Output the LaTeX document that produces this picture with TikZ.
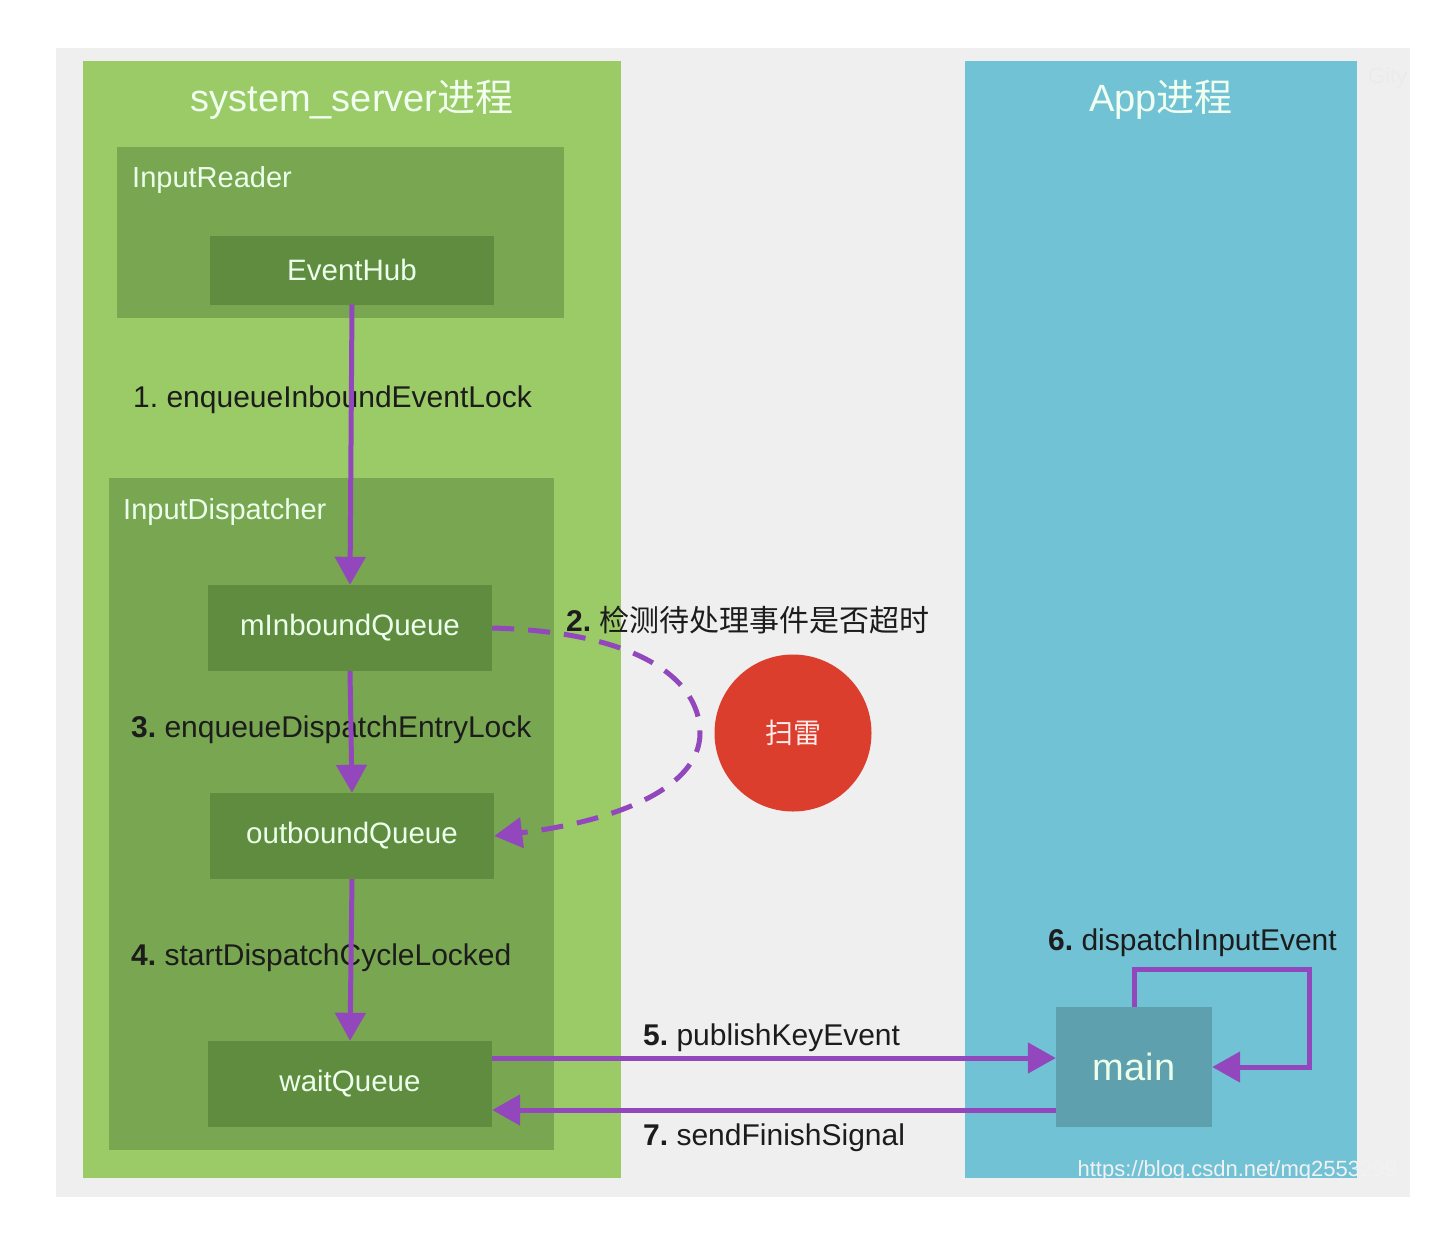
\documentclass[tikz,border=0pt]{standalone}
\usepackage{fontspec}
\setmainfont{Liberation Sans}
\newfontfamily\cjk{Noto Sans CJK SC}
\usetikzlibrary{arrows.meta,positioning,calc}
\definecolor{bggrey}{RGB}{239,239,239}
\definecolor{srvgreen}{RGB}{154,203,103}
\definecolor{midgreen}{RGB}{121,166,81}
\definecolor{darkgreen}{RGB}{96,140,64}
\definecolor{appblue}{RGB}{114,194,214}
\definecolor{mainblue}{RGB}{94,160,174}
\definecolor{minered}{RGB}{220,62,45}
\definecolor{flowpurple}{RGB}{146,72,188}
\definecolor{txtdark}{RGB}{28,28,28}
\tikzstyle{title}=[text=white!94!green,inner sep=0pt,font=\fontsize{38}{42}\selectfont]
\tikzstyle{sublbl}=[anchor=west,text=white!92!green,inner sep=0pt,font=\fontsize{29}{33}\selectfont]
\tikzstyle{box}=[fill=darkgreen,text=white!92!green,minimum width=284pt,minimum height=86pt,inner sep=0pt,font=\fontsize{29.5}{33}\selectfont]
\tikzstyle{flow}=[-{Triangle[length=28pt,width=30pt]},line width=5pt,draw=flowpurple]
\tikzstyle{dashflow}=[flow,dash pattern=on 22pt off 14pt]
\tikzstyle{lbl}=[anchor=west,inner sep=0pt,text=txtdark,font=\fontsize{30}{34}\selectfont]

\begin{document}
\begin{tikzpicture}[x=1pt,y=-1pt]
	\useasboundingbox (0,0) rectangle (1442,1240);

	%backgrounds
	\fill[bggrey] (56,48) rectangle (1410,1197);
	\fill[srvgreen] (83,61) rectangle (621,1178);
	\fill[appblue] (965,61) rectangle (1357,1178);
	\fill[midgreen] (117,147) rectangle (564,318);
	\fill[midgreen] (109,478) rectangle (554,1150);

	\node[title] (srvtitle) at (352,100) {system\_server{\cjk 进程}};
	\node[title] (apptitle) at (1161,100) {App{\cjk 进程}};
	\node[sublbl] (readerlbl) at (132,180) {InputReader};
	\node[sublbl] (dispatchlbl) at (123,512) {InputDispatcher};

	%queues
	\node[box,minimum height=69pt] (eventhub) at (352,270) {EventHub};
	\node[box] (minbound) at (350,628) {mInboundQueue};
	\node[box] (outbound) at (352,836) {outboundQueue};
	\node[box] (waitq) at (350,1084) {waitQueue};
	\node[box,fill=mainblue,minimum width=156pt,minimum height=120pt,
		font=\fontsize{38}{42}\selectfont] (main) at (1134,1067) {main};

	\node[circle,fill=minered,minimum size=157pt,text=white!92!red,
		font=\fontsize{28}{32}\selectfont\cjk] (mine) at (793,733) {扫雷};

	%labels
	\node[lbl] (lbl1) at (133,400) {1.\ enqueueInboundEventLock};
	\node[lbl] (lbl2) at (566,620) {\textbf{2.}\ {\fontsize{30}{34}\selectfont\cjk 检测待处理事件是否超时}};
	\node[lbl] (lbl3) at (131,730) {\textbf{3.}\ enqueueDispatchEntryLock};
	\node[lbl] (lbl4) at (131,958) {\textbf{4.}\ startDispatchCycleLocked};
	\node[lbl] (lbl5) at (643,1038) {\textbf{5.}\ publishKeyEvent};
	\node[lbl] (lbl6) at (1048,943) {\textbf{6.}\ dispatchInputEvent};
	\node[lbl] (lbl7) at (643,1138) {\textbf{7.}\ sendFinishSignal};

	%arrows
	\draw[flow] (eventhub.south) -- (minbound.north);
	\draw[flow] (minbound.south) -- (outbound.north);
	\draw[flow] (outbound.south) -- (waitq.north);
	\coordinate (p5s) at ([yshift=26pt]waitq.east);
	\coordinate (p7e) at ([yshift=-26pt]waitq.east);
	\draw[flow] (p5s) -- (p5s -| main.west);
	\draw[flow] (p7e -| main.west) -- (p7e);
	\draw[flow] (main.north) -- ++(0,-37) -| ([xshift=97pt]main.east) -- (main.east);
	\coordinate (bend) at (700,733);
	\draw[dashflow] (minbound.east) .. controls (640,632) and (700,680) .. (bend)
		.. controls (700,790) and (610,822) .. (outbound.east);

	%watermarks
	\begin{scope}
		\clip (56,48) rectangle (1410,1197);
		\node[anchor=west,inner sep=0pt,text=black!8,font=\fontsize{22}{26}\selectfont] (gity) at (1368,78) {Gity};
	\end{scope}
	\node[anchor=east,inner sep=0pt,text=white!90!gray,font=\fontsize{22}{26}\selectfont] (wmark) at (1397,1171) {https://blog.csdn.net/mq2553299};
\end{tikzpicture}
\end{document}
